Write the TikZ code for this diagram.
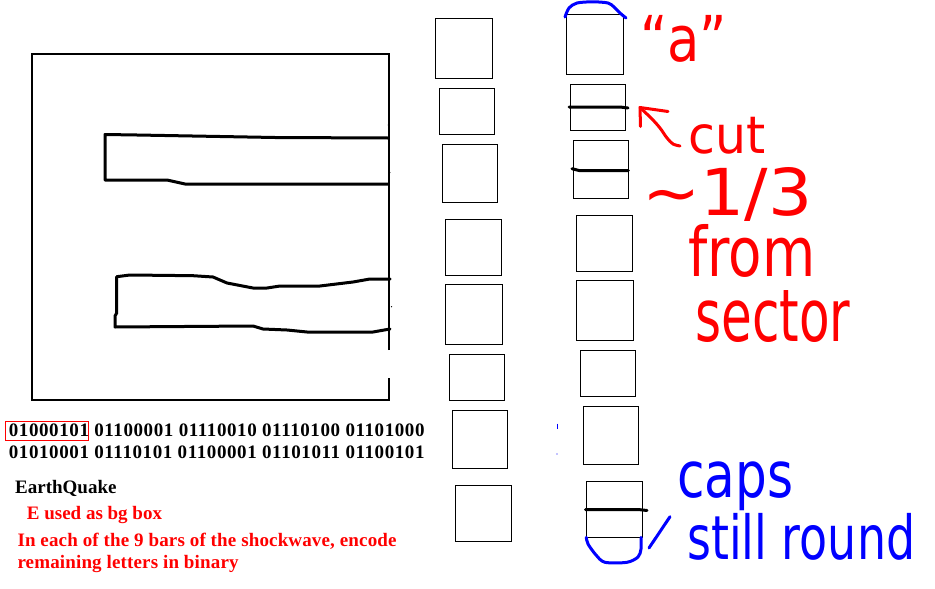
\documentclass[tikz,border=0pt]{standalone}
\usepackage{fontspec}
\setmainfont{Liberation Serif}
\newfontfamily\hand{DejaVu Sans}
\newcommand{\hw}[3]{\resizebox*{#1pt}{#2pt}{\hand #3}}
\begin{document}
\begin{tikzpicture}[x=1pt,y=-1pt,
  thinbox/.style={draw=black, line width=1.3pt},
  frame/.style={draw=black, line width=1.2pt},
  inkblack/.style={draw=black, line width=3pt, line join=round, line cap=round},
  inkblue/.style={draw=blue, line width=3pt, line join=round, line cap=round},
  inkred/.style={draw=red, line width=3pt, line join=round, line cap=round},
  lbl/.style={anchor=base west, inner sep=0pt, font=\fontsize{19}{22}\selectfont\bfseries},
  hwl/.style={anchor=north west, inner sep=0pt}]
\useasboundingbox (0,0) rectangle (935,589);
\fill[white] (0,0) rectangle (935,589);

% big background box
\draw[frame] (389,350) -- (389,54) -- (32,54) -- (32,400) -- (389,400) -- (389,378);
\fill (388.5,125) circle (1pt);
\fill (389.3,172.7) circle (1.2pt);
\fill (391.5,306.7) circle (0.7pt);

% E strokes
\draw[inkblack] (388,138) -- (275,137.5) -- (220,136.5) -- (137,135) -- (105,134.5) -- (105,180) -- (167,180) -- (185,184) -- (388,184);
\draw[inkblack] (390,279) -- (370,279) -- (353,282) -- (320,286) -- (280,286) -- (267,288) -- (253,288) -- (227,283) -- (213,277) -- (193,275.7) -- (130,275) -- (116.7,276.7) -- (116.7,313) -- (115,316) -- (115,327) -- (253,326) -- (263,329) -- (287,330) -- (307,332) -- (373,332) -- (390,329);

% middle column
\draw[thinbox] (435.3,18.3) rectangle (492.3,78.3);
\draw[thinbox] (439.3,88.3) rectangle (494.3,134.3);
\draw[thinbox] (442.3,144.3) rectangle (497.3,202.3);
\draw[thinbox] (445.3,219.3) rectangle (501.3,275.3);
\draw[thinbox] (445.3,284.3) rectangle (502.3,344.3);
\draw[thinbox] (449.3,354.3) rectangle (504.3,400.3);
\draw[thinbox] (452.3,410.3) rectangle (507.3,468.3);
\draw[thinbox] (455.3,485.3) rectangle (511.3,541.3);

% right column
\draw[thinbox] (566.3,14.3) rectangle (623.3,74.3);
\draw[thinbox] (570.3,84.3) rectangle (625.3,130.3);
\draw[thinbox] (573.3,140.3) rectangle (628.3,198.3);
\draw[thinbox] (576.3,215.3) rectangle (632.3,271.3);
\draw[thinbox] (576.3,280.3) rectangle (633.3,340.3);
\draw[thinbox] (580.3,350.3) rectangle (635.3,396.3);
\draw[thinbox] (583.3,406.3) rectangle (638.3,464.3);
\draw[thinbox] (586.3,481.3) rectangle (642.3,537.3);

% cut lines
\draw[inkblack] (569,107) -- (620,107) -- (628,108);
\draw[inkblack] (572,168.7) -- (579,170.5) -- (628.3,170.5);
\draw[inkblack] (585.5,509.7) -- (640,509.7) -- (647,510.5);

% blue caps
\draw[inkblue] plot[smooth] coordinates {(565,17) (569,8) (577,3) (593,1.8) (608,3) (614,7) (620,13) (626,18)};
\draw[inkblue] plot[smooth] coordinates {(586.3,537.3) (588,544) (596,555) (605,562.3) (627,562.3) (638,557) (641,549) (641,537.3)};
\draw[inkblue] (670,516.7) -- (649,548);
\draw[blue, line width=1pt] (557,423.5) -- (557,429);
\fill[blue] (557,454) circle (0.6pt);

% red arrow
\draw[inkred] plot[smooth] coordinates {(640,107.5) (652,119) (660,128) (667,138) (673,144) (680,146)};
\draw[inkred] (668,111.5) -- (640,107.5) -- (640.5,126.5);

% handwritten notes
\node[hwl, text=red] (qa) at (640,15) {\hw{87}{47}{“a”}};
\node[hwl, text=red] (cut) at (688,117) {\hw{77}{37}{cut}};
\node[hwl, text=red] (third) at (642,167) {\hw{170}{54}{\textasciitilde1/3}};
\node[hwl, text=red] (from) at (688,224) {\hw{127}{53}{from}};
\node[hwl, text=red] (sector) at (695,290) {\hw{155}{52}{sector}};
\node[hwl, text=blue] (caps) at (677,462) {\hw{116}{49}{caps}};
\node[hwl, text=blue] (still) at (687,513) {\hw{228}{47}{still round}};

% typed text
\node[lbl] (bin1) at (8.7,436.7) {\addfontfeatures{LetterSpace=3.1}01000101 01100001 01110010 01110100 01101000};
\node[lbl] (bin2) at (8.7,458.3) {\addfontfeatures{LetterSpace=3.1}01010001 01110101 01100001 01101011 01100101};
\draw[red, line width=1pt] (5,421) rectangle (88.3,440.7);
\node[lbl] (eq) at (15,493.3) {EarthQuake};
\node[lbl, text=red] (ebg) at (26.7,519) {E used as bg box};
\node[lbl, text=red] (enc1) at (17.3,546.7) {\addfontfeatures{LetterSpace=0.8}In each of the 9 bars of the shockwave, encode};
\node[lbl, text=red] (enc2) at (17.3,568.3) {\addfontfeatures{LetterSpace=0.8}remaining letters in binary};
\end{tikzpicture}
\end{document}
